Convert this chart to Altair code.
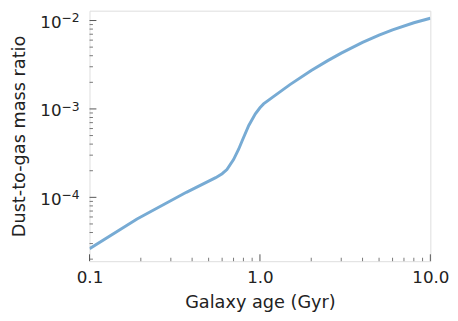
import altair as alt
import pandas as pd

# Curve data
age = [0.1, 0.19, 0.37, 0.55, 0.60, 0.64, 0.70, 0.75, 0.79, 0.86, 0.94, 1.0, 1.05, 1.2, 1.5,
       2.0, 2.5, 3.0, 4.0, 5.0, 6.0, 8.0, 10.0]
ratio = [2.63e-5, 5.7e-5, 1.14e-4, 1.67e-4, 1.85e-4, 2.06e-4, 2.67e-4, 3.5e-4, 4.45e-4, 6.5e-4, 8.8e-4,
         1.03e-3, 1.14e-3, 1.38e-3, 1.885e-3, 2.72e-3, 3.52e-3, 4.28e-3, 5.65e-3, 6.82e-3, 7.82e-3,
         9.43e-3, 1.06e-2]

x_major = [0.1, 1.0, 10.0]
x_minor = [0.2, 0.3, 0.4, 0.5, 0.6, 0.7, 0.8, 0.9, 2, 3, 4, 5, 6, 7, 8, 9]
y_major = [1e-4, 1e-3, 1e-2]
y_base = ["10", "10", "10"]
y_exp = ["−4", "−3", "−2"]
y_minor = [2e-5, 3e-5, 4e-5, 5e-5, 6e-5, 7e-5, 8e-5, 9e-5,
           2e-4, 3e-4, 4e-4, 5e-4, 6e-4, 7e-4, 8e-4, 9e-4,
           2e-3, 3e-3, 4e-3, 5e-3, 6e-3, 7e-3, 8e-3, 9e-3]

W, H = 347, 255
xdom = [0.1, 10.0]
ydom = [10 ** -4.722, 10 ** -1.889]

xs = alt.Scale(type="log", domain=xdom, nice=False, zero=False)
ys = alt.Scale(type="log", domain=ydom, nice=False, zero=False)

FONT = "DejaVu Sans"
text_color = "#222222"
xaxis = alt.Axis(
    values=x_major, format=".1f", title="Galaxy age (Gyr)", ticks=False, tickSize=0,
    domain=False, grid=False, labelPadding=9, titlePadding=8, labelFlush=False,
    labelFontSize=17, titleFontSize=18, labelFont=FONT, titleFont=FONT,
    labelColor=text_color, titleColor=text_color, titleFontWeight="normal")
yaxis = alt.Axis(
    values=y_major, title="Dust-to-gas mass ratio", ticks=False, tickSize=0, labels=False,
    domain=False, grid=False, titlePadding=62,
    titleFontSize=18, titleFont=FONT, titleColor=text_color, titleFontWeight="normal")

df = pd.DataFrame({"age": age, "ratio": ratio})

line = alt.Chart(df).mark_line(color="#77abd4", strokeWidth=3, clip=True).encode(
    x=alt.X("age:Q", scale=xs, axis=xaxis),
    y=alt.Y("ratio:Q", scale=ys, axis=yaxis),
)

tick_color = "#555555"

xmaj = alt.Chart(pd.DataFrame({"age": x_major})).mark_rule(color=tick_color, strokeWidth=1).encode(
    x=alt.X("age:Q", scale=xs, axis=xaxis), y=alt.value(H), y2=alt.value(H - 7))
xmin = alt.Chart(pd.DataFrame({"age": x_minor})).mark_rule(color=tick_color, strokeWidth=0.8).encode(
    x=alt.X("age:Q", scale=xs, axis=xaxis), y=alt.value(H), y2=alt.value(H - 3.5))
ymaj = alt.Chart(pd.DataFrame({"ratio": y_major})).mark_rule(color=tick_color, strokeWidth=1).encode(
    y=alt.Y("ratio:Q", scale=ys, axis=yaxis), x=alt.value(0), x2=alt.value(7))
ymin = alt.Chart(pd.DataFrame({"ratio": y_minor})).mark_rule(color=tick_color, strokeWidth=0.8).encode(
    y=alt.Y("ratio:Q", scale=ys, axis=yaxis), x=alt.value(0), x2=alt.value(3.5))

lab_df = pd.DataFrame({"ratio": y_major, "base": y_base, "exp": y_exp})
ylab_base = alt.Chart(lab_df).mark_text(
    align="right", baseline="alphabetic", dy=7.7, fontSize=17, font=FONT, color=text_color
).encode(y=alt.Y("ratio:Q", scale=ys, axis=yaxis), x=alt.value(-28.5), text="base:N")
ylab_exp = alt.Chart(lab_df).mark_text(
    align="left", baseline="alphabetic", dy=1.7, fontSize=12.5, font=FONT, color=text_color
).encode(y=alt.Y("ratio:Q", scale=ys, axis=yaxis), x=alt.value(-28.5), text="exp:N")

chart = alt.layer(line, xmin, xmaj, ymin, ymaj, ylab_base, ylab_exp).properties(
    width=W, height=H,
    autosize=alt.AutoSizeParams(type="none"),
    padding={"left": 83, "top": 0, "right": 20, "bottom": 50},
).configure_view(stroke="#777777", strokeWidth=1.5).configure(background="white")

chart.save("out.html", embed_options={"renderer": "svg", "actions": False})
